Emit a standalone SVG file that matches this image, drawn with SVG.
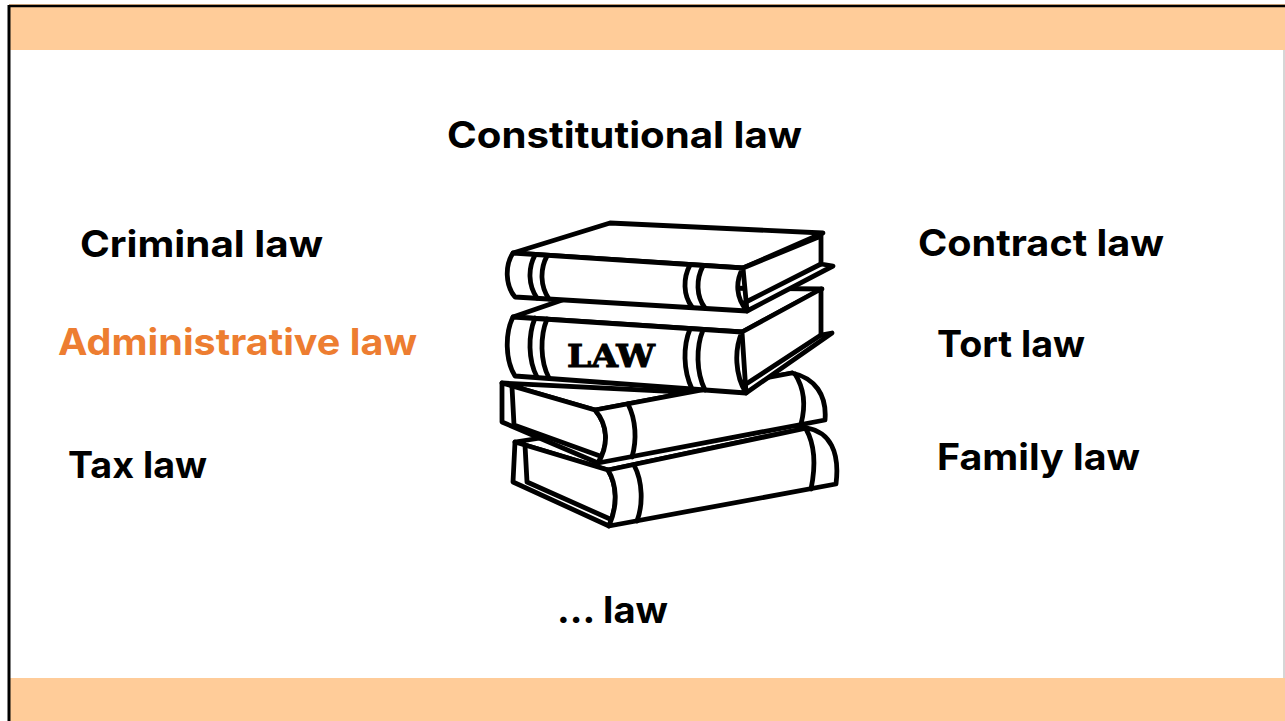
<svg xmlns="http://www.w3.org/2000/svg" width="1285" height="721" viewBox="0 0 1285 721">
<defs>
<style>
.lbl{font-family:Inter,"Open Sans","Liberation Sans",sans-serif;font-weight:700;font-size:37px;fill:#000}
.orange{fill:#ED7D31}
.bk{fill:#fff;stroke:#000;stroke-width:4.8;stroke-linejoin:round;stroke-linecap:round}
.ln{fill:none;stroke:#000;stroke-width:4.8;stroke-linecap:round;stroke-linejoin:round}
.band{fill:#FFCC99}
</style>
</defs>
<rect x="0" y="0" width="1285" height="721" fill="#fff"/>
<g id="frame">
<rect class="band" x="9" y="4" width="1276" height="46"/>
<rect class="band" x="9" y="678" width="1276" height="43"/>
<line x1="9" y1="6" x2="1285" y2="6" stroke="#000" stroke-width="2.5"/>
<line x1="9" y1="5" x2="9" y2="721" stroke="#000" stroke-width="3"/>
<line x1="1284" y1="50" x2="1284" y2="678" stroke="#c8c8c8" stroke-width="1.5"/>
</g>
<g id="law-books">
<g id="book4">
<path class="bk" d="M515,442 L720,410 L807,428 L608,470 Z"/>
<path class="bk" d="M515,442 L513,482 L609,526 C618,505 617,485 608,470 Z"/>
<path class="ln" d="M525,445 L527,482 L610,519"/>
<path class="bk" d="M608,470 L807,428 C830,432 840,452 836,484 L609,526 C618,505 617,485 608,470 Z"/>
<path class="ln" d="M634,465 C643,482 643,505 637,521"/>
<path class="ln" d="M806,429 C815,445 816,465 811,489"/>
</g>
<g id="book3">
<path class="bk" d="M502,383 L745,395 L792,373 L595,410 Z"/>
<path class="bk" d="M502,383 L502,422 L598,463 C609,445 608,425 595,410 Z"/>
<path class="ln" d="M512,387 L514,425 L600,456"/>
<path class="bk" d="M595,410 L792,373 C815,378 827,395 825,420 L598,463 C609,445 608,425 595,410 Z"/>
<path class="ln" d="M628,404 C636,420 637,440 632,457"/>
<path class="ln" d="M795,374 C804,388 806,405 801,424"/>
</g>
<g id="book2">
<path class="bk" d="M513,317 L600,287 L822,289 L742,332 Z"/>
<path class="bk" d="M742,332 L821,289 L821,335 L832,333 L746,393 Z"/>
<path class="ln" d="M821,335 L743,386"/>
<path class="bk" d="M513,317 L742,332 C734,350 735,375 746,393 L515,376 C505,360 505,333 513,317 Z"/>
<path class="ln" d="M535,318 C528,335 528,360 537,377"/>
<path class="ln" d="M547,319 C540,336 540,361 549,378"/>
<path class="ln" d="M690,329 C683,346 683,370 692,389"/>
<path class="ln" d="M703,330 C696,347 696,372 705,390"/>
<text x="567" y="367" textLength="88" lengthAdjust="spacingAndGlyphs" style="font-family:'DejaVu Serif','Liberation Serif',serif;font-weight:900;font-size:32px;fill:#000;stroke:#000;stroke-width:1">LAW</text>
</g>
<g id="book1">
<path class="bk" d="M513,253 L610,223 L823,233 L743,268 Z"/>
<path class="bk" d="M743,268 L821,236 L821,264 L833,266 L747,311 Z"/>
<path class="ln" d="M821,264 L744,303"/>
<path class="bk" d="M513,253 L743,268 C735,282 736,298 747,311 L515,297 C505,285 505,265 513,253 Z"/>
<path class="ln" d="M535,255 C528,268 528,285 537,298"/>
<path class="ln" d="M547,256 C540,269 540,286 549,299"/>
<path class="ln" d="M690,265 C683,278 683,295 692,307"/>
<path class="ln" d="M703,266 C696,279 696,296 705,308"/>
</g>
</g>
<g id="constitutional-law"><text class="lbl" x="447" y="148" textLength="355" lengthAdjust="spacingAndGlyphs">Constitutional law</text></g>
<g id="criminal-law"><text class="lbl" x="80" y="257" textLength="243" lengthAdjust="spacingAndGlyphs">Criminal law</text></g>
<g id="administrative-law"><text class="lbl orange" x="58" y="355" textLength="359" lengthAdjust="spacingAndGlyphs">Administrative law</text></g>
<g id="tax-law"><text class="lbl" x="68" y="478" textLength="139" lengthAdjust="spacingAndGlyphs">Tax law</text></g>
<g id="contract-law"><text class="lbl" x="918" y="256" textLength="246" lengthAdjust="spacingAndGlyphs">Contract law</text></g>
<g id="tort-law"><text class="lbl" x="937" y="357" textLength="148" lengthAdjust="spacingAndGlyphs">Tort law</text></g>
<g id="family-law"><text class="lbl" x="937" y="470" textLength="203" lengthAdjust="spacingAndGlyphs">Family law</text></g>
<g id="more-law"><text class="lbl" x="557" y="623" textLength="111" lengthAdjust="spacingAndGlyphs">... law</text></g>
</svg>
